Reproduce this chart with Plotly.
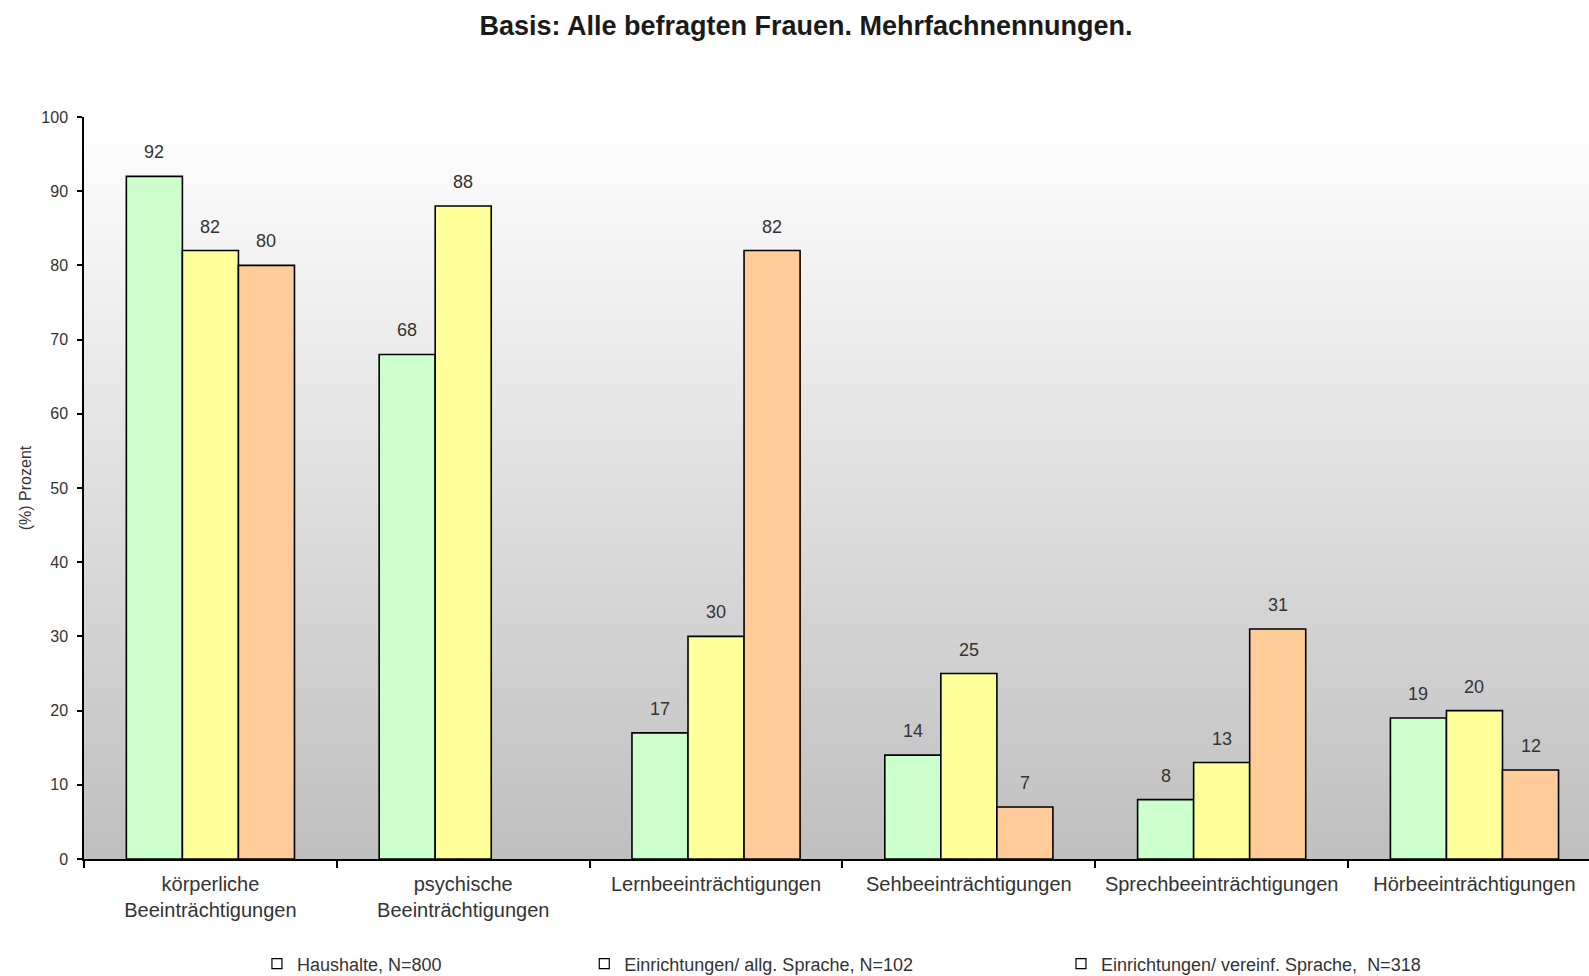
import base64
import struct
import zlib

import plotly.graph_objects as go

# ---------------- data ----------------
categories = [
    "körperliche<br>Beeinträchtigungen",
    "psychische<br>Beeinträchtigungen",
    "Lernbeeinträchtigungen",
    "Sehbeeinträchtigungen",
    "Sprechbeeinträchtigungen",
    "Hörbeeinträchtigungen",
]
haushalte = [92, 68, 17, 14, 8, 19]
einr_allg = [82, 88, 30, 25, 13, 20]
einr_vereinf = [80, None, 82, 7, 31, 12]

series_names = [
    "Haushalte, N=800",
    "Einrichtungen/ allg. Sprache, N=102",
    "Einrichtungen/ vereinf. Sprache,  N=318",
]
series_values = [haushalte, einr_allg, einr_vereinf]
series_colors = ["#CCFFCC", "#FFFF99", "#FFCC99"]

y_ticks = list(range(0, 101, 10))

title_text = "Basis: Alle befragten Frauen. Mehrfachnennungen."
y_title = "(%) Prozent"

# ---------------- gradient background (vertical, white -> grey) ----------------
def gradient_png(n=256, top=255, bottom=191):
    raw = b""
    for i in range(n):
        v = round(top + (bottom - top) * i / (n - 1))
        raw += b"\x00" + bytes([v, v, v])

    def chunk(tag, data):
        c = struct.pack(">I", len(data)) + tag + data
        return c + struct.pack(">I", zlib.crc32(tag + data) & 0xFFFFFFFF)

    png = b"\x89PNG\r\n\x1a\n"
    png += chunk(b"IHDR", struct.pack(">IIBBBBB", 1, n, 8, 2, 0, 0, 0))
    png += chunk(b"IDAT", zlib.compress(raw))
    png += chunk(b"IEND", b"")
    return "data:image/png;base64," + base64.b64encode(png).decode()


FONT = "Liberation Sans, Arial, sans-serif"
TXT = "#333333"
BARGAP = 0.335
n_series = len(series_values)

fig = go.Figure()

for name, vals, col in zip(series_names, series_values, series_colors):
    fig.add_trace(
        go.Bar(
            x=categories,
            y=vals,
            name=name,
            marker=dict(color=col, line=dict(color="#000000", width=1.6)),
            showlegend=False,
            hoverinfo="x+y+name",
        )
    )

# value labels above the bars (positioned via the category axis scale)
bar_w = (1 - BARGAP) / n_series
annotations = []
for j, vals in enumerate(series_values):
    for i, v in enumerate(vals):
        if v is None:
            continue
        annotations.append(
            dict(
                x=i + (j - (n_series - 1) / 2) * bar_w,
                y=v,
                xref="x",
                yref="y",
                text=str(v),
                showarrow=False,
                yanchor="bottom",
                yshift=12,
                font=dict(family=FONT, size=18, color=TXT),
            )
        )

# legend entries (white squares as in the original)
legend_x = [0.1617, 0.3677, 0.6677]
for k, name in enumerate(series_names):
    lg = "legend" if k == 0 else f"legend{k + 1}"
    fig.add_trace(
        go.Scatter(
            x=[None],
            y=[None],
            mode="markers",
            name=name,
            marker=dict(symbol="square", size=10, color="white",
                        line=dict(color="#000000", width=1.2)),
            legend=lg,
            showlegend=True,
        )
    )

legend_common = dict(
    orientation="h",
    xref="container",
    yref="container",
    y=1 - 964 / 976,
    yanchor="middle",
    xanchor="left",
    bgcolor="rgba(0,0,0,0)",
    font=dict(family=FONT, size=18, color=TXT),
    itemwidth=30,
    itemclick=False,
    itemdoubleclick=False,
)

fig.update_layout(
    width=1589,
    height=976,
    margin=dict(l=84, r=0, t=117, b=117),
    paper_bgcolor="white",
    plot_bgcolor="rgba(0,0,0,0)",
    barmode="group",
    bargap=BARGAP,
    bargroupgap=0.0,
    annotations=annotations,
    title=dict(
        text="<b>" + title_text + "</b>",
        x=806 / 1589,
        xref="container",
        xanchor="center",
        y=1 - 26 / 976,
        yref="container",
        yanchor="middle",
        font=dict(family=FONT, size=27, color="#1a1a1a"),
    ),
    xaxis=dict(
        type="category",
        range=[-0.5, 5.453],
        showline=True,
        linecolor="#000000",
        linewidth=1.5,
        ticks="outside",
        tickson="boundaries",
        ticklen=7,
        tickcolor="#000000",
        tickwidth=1.5,
        showgrid=False,
        tickfont=dict(family=FONT, size=20, color=TXT),
        ticklabelstandoff=6,
        fixedrange=True,
    ),
    yaxis=dict(
        range=[0, 100],
        tickvals=y_ticks,
        showline=True,
        linecolor="#000000",
        linewidth=1.5,
        ticks="outside",
        ticklen=5,
        tickcolor="#000000",
        tickwidth=1.5,
        showgrid=False,
        zeroline=False,
        tickfont=dict(family=FONT, size=16, color=TXT),
        ticklabelstandoff=6,
        title=dict(text=y_title, font=dict(family=FONT, size=16, color=TXT), standoff=6),
        fixedrange=True,
    ),
    images=[
        dict(
            source=gradient_png(),
            xref="paper",
            yref="paper",
            x=0,
            y=1,
            sizex=1,
            sizey=1,
            xanchor="left",
            yanchor="top",
            sizing="stretch",
            layer="below",
        )
    ],
    legend=dict(legend_common, x=legend_x[0]),
    legend2=dict(legend_common, x=legend_x[1]),
    legend3=dict(legend_common, x=legend_x[2]),
)

fig.write_html(
    "out.html",
    config={"displayModeBar": False},
    post_script="document.body.style.margin='0';document.body.style.overflow='hidden';",
)
